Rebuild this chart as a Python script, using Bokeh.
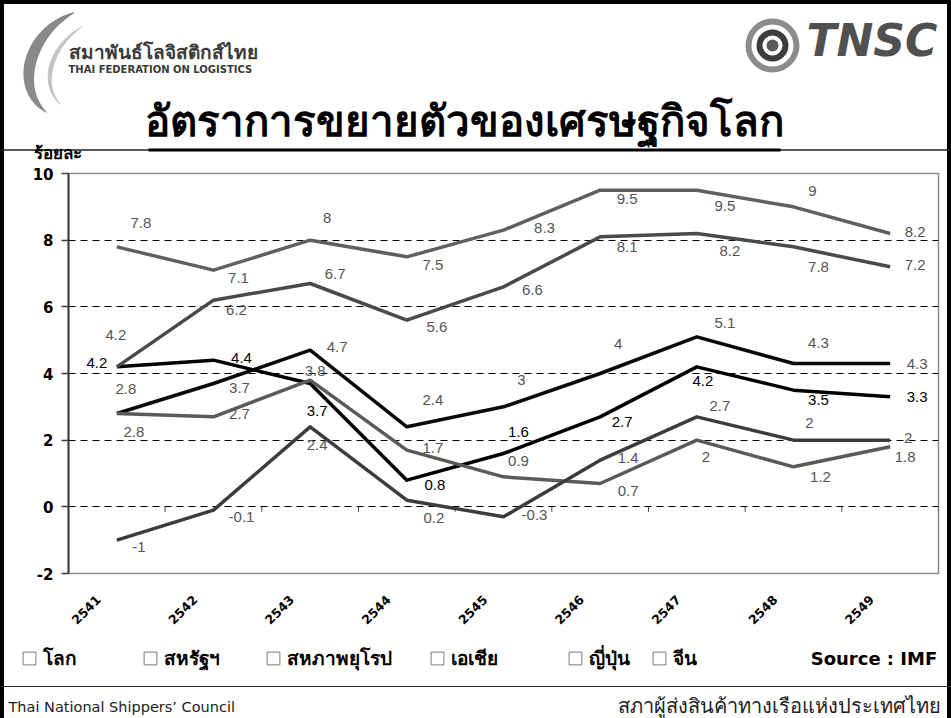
import numpy as np
from bokeh.plotting import figure
from bokeh.layouts import column
from bokeh.models import Range1d, LinearAxis, FixedTicker, Legend, LegendItem, ColumnDataSource
from bokeh.core.properties import value
from bokeh.embed import file_html
from bokeh.resources import INLINE

# ---------------- data ----------------
years = ["2541", "2542", "2543", "2544", "2545", "2546", "2547", "2548", "2549"]
world = [2.8, 3.7, 4.7, 2.4, 3.0, 4.0, 5.1, 4.3, 4.3]
usa = [4.2, 4.4, 3.7, 0.8, 1.6, 2.7, 4.2, 3.5, 3.3]
eu = [2.8, 2.7, 3.8, 1.7, 0.9, 0.7, 2.0, 1.2, 1.8]
asia = [4.2, 6.2, 6.7, 5.6, 6.6, 8.1, 8.2, 7.8, 7.2]
japan = [-1.0, -0.1, 2.4, 0.2, -0.3, 1.4, 2.7, 2.0, 2.0]
china = [7.8, 7.1, 8.0, 7.5, 8.3, 9.5, 9.5, 9.0, 8.2]
series_names = ["โลก", "สหรัฐฯ", "สหภาพยุโรป", "เอเชีย", "ญี่ปุ่น", "จีน"]
y_ticks = [-2, 0, 2, 4, 6, 8, 10]
grid_ticks = [0, 2, 4, 6, 8]

title_text = "อัตราการขยายตัวของเศรษฐกิจโลก"
unit_text = "ร้อยละ"
source_text = "Source :  IMF"
footer_left = "Thai National Shippers’ Council"
footer_right = "สภาผู้ส่งสินค้าทางเรือแห่งประเทศไทย"
logo_th = "สมาพันธ์โลจิสติกส์ไทย"
logo_en = "THAI FEDERATION ON LOGISTICS"
logo_right = "TNSC"

# ---------------- styles ----------------
STYLE = {
    "โลก": dict(color="#0a0a0a", label="#555555",
                off=[(9, -25), (26, 4), (27, -3), (26, -27), (18, -27), (18, -30), (28, -14), (25, -21), (27, 0)]),
    "สหรัฐฯ": dict(color="#000000", label="#000000",
                   off=[(-20, -4), (28, -2), (7, 27), (28, 5), (15, -22), (22, 5), (6, 14), (25, 10), (27, 0)]),
    "สหภาพยุโรป": dict(color="#5a5a5a", label="#555555",
                       off=[(17, 18), (26, -3), (5, -9), (26, -2), (15, -16), (28, 7), (9, 17), (27, 10), (15, 10)]),
    "เอเชีย": dict(color="#4a4a4a", label="#555555",
                   off=[(-1, -32), (23, 10), (25, -10), (30, 7), (29, 3), (27, 10), (33, 17), (25, 20), (25, -2)]),
    "ญี่ปุ่น": dict(color="#3c3c3c", label="#555555",
                    off=[(22, 7), (28, 7), (7, 18), (27, 18), (31, -2), (28, -2), (23, -11), (16, -17), (18, -2)]),
    "จีน": dict(color="#606060", label="#555555",
                off=[(24, -24), (25, 8), (17, -22), (26, 8), (41, -2), (27, 9), (28, 16), (19, -16), (25, -2)]),
}
THAI = "Noto Sans"
W = 951
HH, MH, FH = 165, 470, 83


def deco_fig(height):
    f = figure(width=W, height=height, x_range=Range1d(0, W), y_range=Range1d(height, 0),
               output_backend="svg", toolbar_location=None, x_axis_location=None,
               y_axis_location=None, min_border=0, outline_line_color=None, frame_align=False)
    f.grid.visible = False
    f.border_fill_color = None
    f.background_fill_color = None
    return f


def txt(f, x, y, text, font, size, style="normal", color="#000000", align="left", baseline="middle"):
    f.text(x=[x], y=[y], text=[text], text_font=value(font), text_font_size=size,
           text_font_style=style, text_color=color, text_align=align, text_baseline=baseline)


def crescent(f, p0, p1, p2, p3, wmax, color):
    t = np.linspace(0, 1, 50)[:, None]
    P = [np.array(q, float) for q in (p0, p1, p2, p3)]
    c = (1 - t) ** 3 * P[0] + 3 * (1 - t) ** 2 * t * P[1] + 3 * (1 - t) * t ** 2 * P[2] + t ** 3 * P[3]
    d = 3 * (1 - t) ** 2 * (P[1] - P[0]) + 6 * (1 - t) * t * (P[2] - P[1]) + 3 * t ** 2 * (P[3] - P[2])
    nrm = np.stack([-d[:, 1], d[:, 0]], axis=1)
    nrm /= np.linalg.norm(nrm, axis=1, keepdims=True)
    w = (wmax * np.sin(np.pi * t[:, 0]) ** 0.8 + 0.5)[:, None]
    pts = np.vstack([c + nrm * w / 2, (c - nrm * w / 2)[::-1]])
    f.patch(x=pts[:, 0], y=pts[:, 1], fill_color=color, line_color=None)


# ---------------- header ----------------
h = deco_fig(HH)
crescent(h, (74, 12), (30, 30), (12, 86), (46, 112), 11, "#8a8a8a")
crescent(h, (82, 26), (52, 44), (38, 82), (60, 104), 4, "#c4c4c4")
txt(h, 68, 51, logo_th, THAI, "19px", "bold", "#3a3a3a")
txt(h, 68, 69, logo_en, "DejaVu Sans", "10px", "bold", "#3a3a3a")
h.annulus(x=[772], y=[45], inner_radius=21, outer_radius=27, fill_color="#8c8c8c", line_color=None)
h.annulus(x=[772], y=[45], inner_radius=10, outer_radius=16, fill_color="#3d3d3d", line_color=None)
h.circle(x=[772], y=[45], radius=6, fill_color="#5a5a5a", line_color=None)
txt(h, 806, 40, logo_right, "DejaVu Sans", "44px", "bold italic", "#505050")
txt(h, 464, 119, title_text, THAI, "42px", "bold", "#000000", "center", "middle")
h.segment(x0=[0], y0=[149.5], x1=[W], y1=[149.5], line_width=1.5, line_color="#222222")
h.segment(x0=[148], y0=[149.5], x1=[780], y1=[149.5], line_width=3, line_color="#000000")
txt(h, 33, 152, unit_text, THAI, "17px", "bold", "#000000", "left", "middle")

# ---------------- main chart ----------------
n = len(years)
xs = np.arange(n) + 0.5
FL, FT, FWd, FHt = 68, 8, 870, 400
p = figure(width=W, height=MH, x_range=Range1d(0, n), y_range=Range1d(y_ticks[0], y_ticks[-1]),
           output_backend="svg", toolbar_location=None, x_axis_location=None,
           min_border_left=FL, min_border_right=W - FL - FWd, min_border_top=FT,
           min_border_bottom=MH - FT - FHt, frame_align=False)
p.border_fill_color = None
p.outline_line_color = "#8c8c8c"
p.outline_line_width = 1.5
p.xgrid.visible = False
p.ygrid.ticker = FixedTicker(ticks=grid_ticks)
p.ygrid.grid_line_color = "#000000"
p.ygrid.grid_line_dash = "7 5"
p.ygrid.grid_line_width = 1

yax = p.yaxis[0]
yax.ticker = FixedTicker(ticks=y_ticks)
yax.major_label_overrides = {t: str(t) for t in y_ticks}
yax.major_label_text_font = "DejaVu Sans"
yax.major_label_text_font_style = "bold"
yax.major_label_text_font_size = "15px"
yax.major_label_text_color = "#000000"
yax.major_tick_in = 0
yax.major_tick_out = 7
yax.minor_tick_line_color = None
yax.axis_line_color = "#3c3c3c"
yax.axis_line_width = 2
yax.major_tick_line_color = "#3c3c3c"
yax.major_tick_line_width = 1.5
yax.major_label_standoff = 8

p.extra_x_ranges = {"lab": Range1d(start=0.19, end=n + 0.19)}
xax = LinearAxis(x_range_name="lab", ticker=FixedTicker(ticks=[float(x) for x in xs]),
                 major_label_overrides={float(x): yr for x, yr in zip(xs, years)})
xax.major_label_orientation = np.pi / 4
xax.axis_line_color = None
xax.major_tick_line_color = None
xax.minor_tick_line_color = None
xax.major_label_standoff = 18
xax.major_label_text_font = "DejaVu Sans"
xax.major_label_text_font_style = "bold"
xax.major_label_text_font_size = "12.5px"
xax.major_label_text_color = "#000000"
p.add_layout(xax, "below")

bounds = np.arange(1, n + 1)
p.segment(x0=bounds, y0=np.zeros(n), x1=bounds, y1=np.full(n, -0.15), line_color="#444444", line_width=1)

all_vals = [world, usa, eu, asia, japan, china]
sources = []
for name, vals in zip(series_names, all_vals):
    st = STYLE[name]
    src = ColumnDataSource(dict(x=xs, y=vals, lab=[f"{v:g}" for v in vals],
                                dx=[o[0] for o in st["off"]], dy=[o[1] for o in st["off"]]))
    sources.append((src, st))
    p.line("x", "y", source=src, line_color=st["color"], line_width=3.5, line_join="round")
for src, st in sources:
    p.text("x", "y", text="lab", x_offset="dx", y_offset="dy", source=src, text_color=st["label"],
           text_font=value("Liberation Sans"), text_font_size="15px",
           text_align="center", text_baseline="middle")

# ---------------- footer ----------------
f = deco_fig(FH)
dummy = f.quad(left=[np.nan], right=[np.nan], top=[np.nan], bottom=[np.nan],
               fill_color="white", line_color="#7a7a7a")
leg_px = [21, 142, 265, 429, 567, 651]
for name, lx in zip(series_names, leg_px):
    lg = Legend(items=[LegendItem(label=name, renderers=[dummy])], location=(lx, FH - 38),
                orientation="horizontal", border_line_alpha=0, background_fill_alpha=0,
                padding=0, margin=0, glyph_width=16, glyph_height=16, label_standoff=6,
                label_text_font=THAI, label_text_font_size="19px", label_text_font_style="bold",
                label_text_color="#000000")
    f.add_layout(lg)
txt(f, 943, 23, source_text, "DejaVu Sans", "18px", "bold", "#000000", "right")
f.segment(x0=[0], y0=[51], x1=[W], y1=[51], line_width=1.2, line_color="#333333")
txt(f, 8, 71, footer_left, "DejaVu Sans", "14.5px", "normal", "#222222")
txt(f, 940, 70, footer_right, THAI, "20px", "normal", "#222222", "right")

layout = column(h, p, f, styles={"box-shadow": "inset 4px 4px 0 0 #000000, inset -4px 0 0 0 #000000",
                                 "background-color": "#ffffff"})
open("out.html", "w").write(file_html(layout, INLINE))
